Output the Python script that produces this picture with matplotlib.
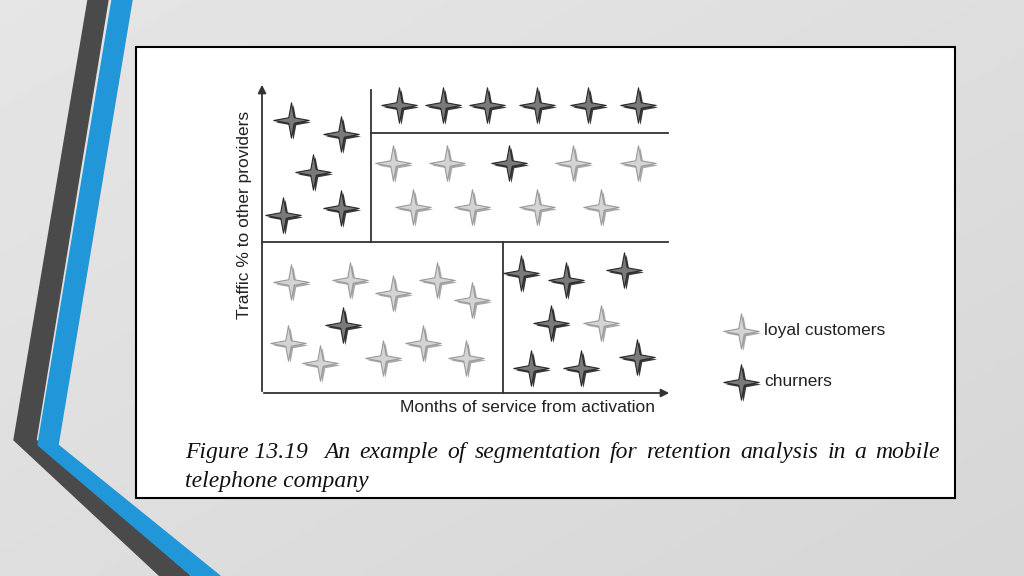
import numpy as np
import matplotlib
matplotlib.use("Agg")
import matplotlib.pyplot as plt
from matplotlib.path import Path
from matplotlib.patches import Polygon, Rectangle

# star positions (pixel space of the slide)
loyal_x = [393, 447, 573, 638, 413, 472, 537, 601,
           291, 350, 393, 437, 472, 288, 320, 383, 423, 466, 601]
loyal_y = [163, 163, 163, 163, 207, 207, 207, 207,
           282, 280, 293, 280, 300, 343, 363, 358, 343, 358, 323]
churn_x = [291, 341, 313, 283, 341,
           399, 443, 487, 537, 588, 638, 509,
           343, 521, 566, 624, 551, 531, 581, 637]
churn_y = [120, 134, 172, 215, 208,
           105, 105, 105, 105, 105, 105, 163,
           325, 273, 280, 270, 323, 368, 368, 357]
legend_labels = ["loyal customers", "churners"]
caption = ["Figure 13.19", "An example of segmentation for retention analysis in a mobile",
           "telephone company"]

# four-pointed star marker
a = np.linspace(0, 2 * np.pi, 9)[:-1] + np.pi / 2
r = np.array([1, 0.22] * 4)
verts = np.c_[r * np.cos(a), r * np.sin(a)]
star = Path(np.vstack([verts, verts[:1]]),
            [Path.MOVETO] + [Path.LINETO] * 7 + [Path.CLOSEPOLY])

fig = plt.figure(figsize=(10.24, 5.76), dpi=100)
ax = fig.add_axes([0, 0, 1, 1])
ax.set_xlim(0, 1024)
ax.set_ylim(576, 0)
ax.axis("off")

# background gradient
g = np.linspace(0, 1, 256)
bg = 0.90 - 0.06 * np.add.outer(g * 0.5, g * 0.5)
ax.imshow(bg, cmap="gray", vmin=0, vmax=1, extent=(0, 1024, 576, 0), aspect="auto", zorder=0)

# decorative bands
ax.add_patch(Polygon([(88, 0), (108, 0), (36, 440), (190, 576), (160, 576), (14, 440)],
                     closed=True, color="#4a4a4a", zorder=1))
ax.add_patch(Polygon([(112, 0), (132, 0), (58, 445), (220, 576), (192, 576), (38, 445)],
                     closed=True, color="#2196d8", zorder=1))

# white panel
ax.add_patch(Rectangle((136, 47), 819, 451, facecolor="white", edgecolor="black", lw=1.5, zorder=2))

# axes and segment lines
lk = dict(color="#333333", lw=1.3, zorder=3)
ax.annotate("", xy=(262, 82), xytext=(262, 394),
            arrowprops=dict(arrowstyle="-|>", color="#333333", lw=1.3, mutation_scale=12), zorder=3)
ax.annotate("", xy=(672, 393), xytext=(261, 393),
            arrowprops=dict(arrowstyle="-|>", color="#333333", lw=1.3, mutation_scale=12), zorder=3)
ax.plot([371, 371], [90, 242], **lk)
ax.plot([371, 668], [133, 133], **lk)
ax.plot([262, 668], [242, 242], **lk)
ax.plot([503, 503], [242, 393], **lk)


def stars(xs, ys, fill, edge, shade):
    xs = np.asarray(xs)
    ys = np.asarray(ys)
    ax.scatter(xs + 2, ys + 2, marker=star, s=650, c=shade, linewidths=0, zorder=4)
    ax.scatter(xs, ys, marker=star, s=650, c=fill, edgecolors=edge, linewidths=0.8, zorder=5)


stars(loyal_x, loyal_y, "#d4d4d4", "#9a9a9a", "#a8a8a8")
stars(churn_x, churn_y, "#7a7a7a", "#2a2a2a", "#3a3a3a")
stars([741], [331], "#d4d4d4", "#9a9a9a", "#a8a8a8")
stars([741], [382], "#7a7a7a", "#2a2a2a", "#3a3a3a")

sans = dict(family="Liberation Sans", color="#222222", fontsize=12.5, zorder=6)
ax.text(764, 331, legend_labels[0], va="center", ha="left", **sans)
ax.text(764, 382, legend_labels[1], va="center", ha="left", **sans)
ax.text(527, 408, "Months of service from activation", ha="center", va="center", **sans)
ax.text(245, 215, "Traffic % to other providers", ha="center", va="center", rotation=90, **sans)

# justified italic caption
serif = dict(family="Liberation Serif", style="italic", fontsize=17, color="#111111", zorder=6)
renderer = fig.canvas.get_renderer()
left, right = 185, 940
head = ax.text(left, 458, caption[0], ha="left", va="baseline", **serif)
start = left + head.get_window_extent(renderer).width + 16
words = caption[1].split(" ")
texts = [ax.text(0, 458, w, ha="left", va="baseline", **serif) for w in words]
widths = [t.get_window_extent(renderer).width for t in texts]
gap = (right - start - sum(widths)) / (len(words) - 1)
x = start
for t, w in zip(texts, widths):
    t.set_x(x)
    x += w + gap
ax.text(left, 487, caption[2], ha="left", va="baseline", **serif)

fig.savefig("out.png", dpi=100)
